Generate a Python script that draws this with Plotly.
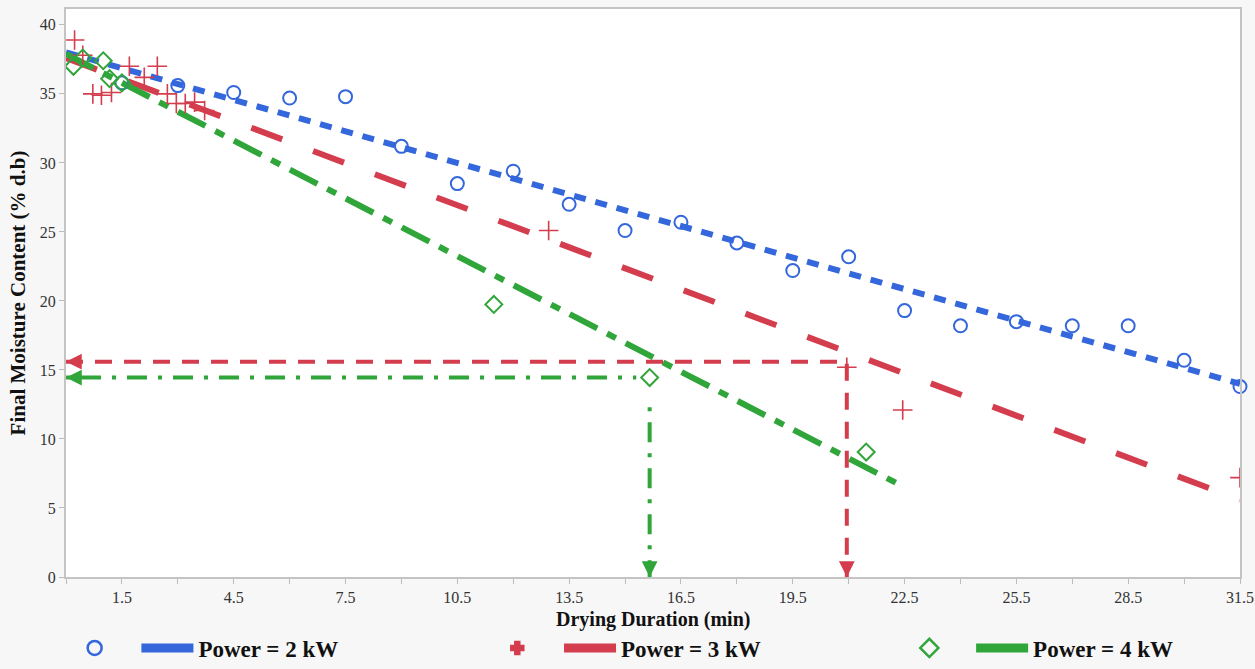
import plotly.graph_objects as go

# ---------------- data ----------------
x_2kw = [1.5, 3.0, 4.5, 6.0, 7.5, 9.0, 10.5, 12.0, 13.5, 15.0, 16.5, 18.0, 19.5, 21.0,
         22.5, 24.0, 25.5, 27.0, 28.5, 30.0, 31.5]
y_2kw = [35.8, 35.6, 35.1, 34.7, 34.8, 31.2, 28.5, 29.4, 27.0, 25.1, 25.7, 24.2, 22.2, 23.2,
         19.3, 18.2, 18.5, 18.2, 18.2, 15.7, 13.8]

x_3kw = [0.23, 0.45, 0.72, 0.95, 1.22, 1.7, 2.1, 2.45, 2.72, 2.96, 3.2, 3.45, 3.72,
         12.95, 20.95, 22.45, 31.5]
y_3kw = [38.9, 37.8, 35.0, 34.9, 35.1, 37.0, 36.2, 37.0, 35.0, 34.3, 34.3, 34.4, 33.8,
         25.1, 15.2, 12.1, 7.2]

x_4kw = [0.2, 0.45, 1.0, 1.17, 1.5, 11.48, 15.66, 21.47]
y_4kw = [37.0, 37.6, 37.4, 36.1, 35.8, 19.75, 14.45, 9.05]

fit_x_2kw = [0.0, 31.5]
fit_y_2kw = [38.0, 14.0]
fit_x_3kw = [0.0, 31.5]
fit_y_3kw = [37.6, 5.6]
fit_x_4kw = [0.0, 22.5]
fit_y_4kw = [37.9, 6.5]

# reference (read-off) lines
ref_3kw_x = [0.0, 20.95, 20.95]
ref_3kw_y = [15.6, 15.6, 0.0]
ref_4kw_hx = [0.0, 15.3]
ref_4kw_hy = [14.45, 14.45]
ref_4kw_vx = [15.66, 15.66]
ref_4kw_vy = [12.3, 0.0]

x_tick_vals = [1.5, 4.5, 7.5, 10.5, 13.5, 16.5, 19.5, 22.5, 25.5, 28.5, 31.5]
x_tick_text = ["1.5", "4.5", "7.5", "10.5", "13.5", "16.5", "19.5", "22.5", "25.5", "28.5", "31.5"]
y_tick_vals = [0, 5, 10, 15, 20, 25, 30, 35, 40]

series_names = ["Power = 2 kW", "Power = 3 kW", "Power = 4 kW"]
x_title = "Drying Duration (min)"
y_title = "Final Moisture Content (% d.b)"

BLUE = "#3467dc"
RED = "#d43d4d"
GREEN = "#2fa53a"
SERIF = "Liberation Serif"

fig = go.Figure()

# fitted lines
fig.add_trace(go.Scatter(x=fit_x_2kw, y=fit_y_2kw, mode="lines", showlegend=False,
                         line=dict(color=BLUE, width=6, dash="12px,10px")))
fig.add_trace(go.Scatter(x=fit_x_3kw, y=fit_y_3kw, mode="lines", showlegend=False,
                         line=dict(color=RED, width=6, dash="33px,33px")))
fig.add_trace(go.Scatter(x=fit_x_4kw, y=fit_y_4kw, mode="lines", showlegend=False,
                         line=dict(color=GREEN, width=6, dash="31px,11px,10px,11px")))

# reference lines
fig.add_trace(go.Scatter(x=ref_3kw_x, y=ref_3kw_y, mode="lines", showlegend=False,
                         line=dict(color=RED, width=4, dash="17px,12px")))
fig.add_trace(go.Scatter(x=ref_4kw_hx, y=ref_4kw_hy, mode="lines", showlegend=False,
                         line=dict(color=GREEN, width=4, dash="4px,11px,20px,11px")))
fig.add_trace(go.Scatter(x=ref_4kw_vx, y=ref_4kw_vy, mode="lines", showlegend=False,
                         line=dict(color=GREEN, width=4, dash="4px,11px,20px,11px")))

# data points
fig.add_trace(go.Scatter(x=x_2kw, y=y_2kw, mode="markers", showlegend=False, cliponaxis=False,
                         marker=dict(symbol="circle-open", size=13, color=BLUE,
                                     line=dict(width=2, color=BLUE))))
fig.add_trace(go.Scatter(x=x_3kw, y=y_3kw, mode="markers", showlegend=False,
                         marker=dict(symbol="cross-thin-open", size=14, color=RED,
                                     line=dict(width=1.6, color=RED))))
fig.add_trace(go.Scatter(x=x_4kw, y=y_4kw, mode="markers", showlegend=False,
                         marker=dict(symbol="diamond-open", size=13, color=GREEN,
                                     line=dict(width=2, color=GREEN))))

# arrow heads on reference lines
arrows = [
    (ref_3kw_x[0], ref_3kw_y[0], 12, 0, RED),
    (ref_3kw_x[2], ref_3kw_y[2], 0, -12, RED),
    (ref_4kw_hx[0], ref_4kw_hy[0], 12, 0, GREEN),
    (ref_4kw_vx[1], ref_4kw_vy[1], 0, -12, GREEN),
]
for ax_x, ax_y, dx, dy, col in arrows:
    fig.add_annotation(x=ax_x, y=ax_y, ax=dx, ay=dy, showarrow=True, arrowhead=2,
                       arrowsize=0.9, arrowwidth=3.5, arrowcolor=col, text="", standoff=0)

# x-axis title placed as text below the tick labels
fig.add_annotation(text=x_title, xref="paper", x=0.5, yref="paper", y=-0.0757,
                   xanchor="center", yanchor="middle", showarrow=False,
                   font=dict(family=SERIF, size=20, color="#111111", weight="bold"))

# legend entries (three legends)
legend_defs = [
    ("legend", "circle-open", BLUE, 14),
    ("legend2", "cross", RED, 10),
    ("legend3", "diamond-open", GREEN, 14),
]
for (lg, sym, col, sz), name in zip(legend_defs, series_names):
    fig.add_trace(go.Scatter(x=[None], y=[None], mode="markers", name=" ", legend=lg,
                             marker=dict(symbol=sym, size=sz, color=col,
                                         line=dict(width=2.5, color=col))))
    fig.add_trace(go.Scatter(x=[None], y=[None], mode="lines", name=name, legend=lg,
                             line=dict(color=col, width=9)))

legend_font = dict(family=SERIF, size=23, color="#111111", weight="bold")
common_legend = dict(orientation="h", yanchor="middle", xanchor="left",
                     yref="container", y=0.0314,
                     font=legend_font, bgcolor="rgba(0,0,0,0)", itemwidth=52,
                     traceorder="normal")

fig.update_layout(
    width=1255, height=669,
    margin=dict(l=66, r=15, t=9, b=92),
    paper_bgcolor="#f7f7f7",
    plot_bgcolor="white",
    font=dict(family=SERIF, color="#333333"),
    legend=dict(x=-0.002, **common_legend),
    legend2=dict(x=0.358, **common_legend),
    legend3=dict(x=0.709, **common_legend),
    xaxis=dict(range=[0, 31.5], tickvals=x_tick_vals, ticktext=x_tick_text, automargin=False,
               ticks="outside", ticklen=5, tickcolor="#bbbbbb",
               minor=dict(dtick=1.5, tick0=0, ticks="outside", ticklen=5, tickcolor="#bbbbbb"),
               showgrid=False, zeroline=False, showline=True, linecolor="#c4c4c4",
               linewidth=2, mirror=True, tickfont=dict(family=SERIF, size=16, color="#333333")),
    yaxis=dict(range=[0, 41.15], tickvals=y_tick_vals, ticks="outside", ticklen=5,
               tickcolor="#bbbbbb", showgrid=False, zeroline=False, showline=True,
               linecolor="#c4c4c4", linewidth=2, mirror=True, automargin=False,
               tickfont=dict(family=SERIF, size=16, color="#333333"),
               title=dict(text=y_title, standoff=8,
                          font=dict(family=SERIF, size=21, color="#111111", weight="bold"))),
)

# remove the default page margin so the 1255x669 figure fills the window exactly
fig.write_html("out.html", config={"displayModeBar": False},
               post_script="document.body.style.margin='0';")
